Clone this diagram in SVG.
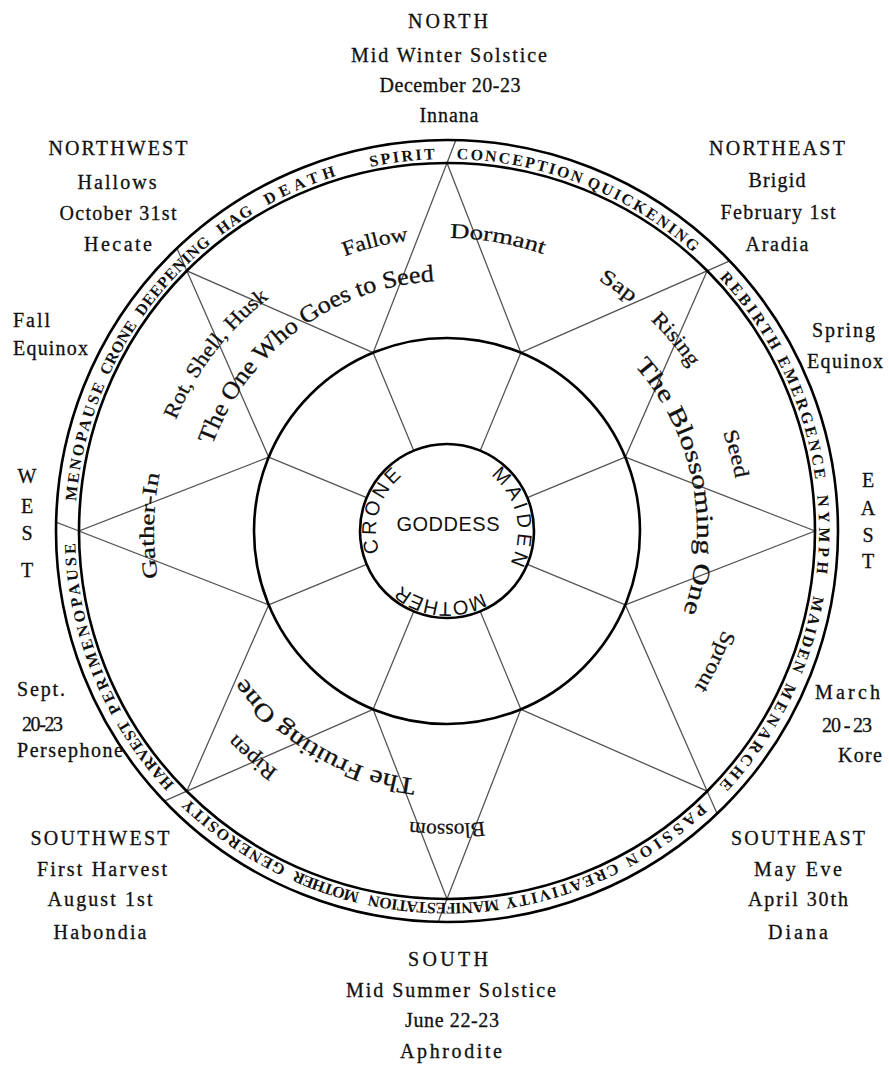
<svg xmlns="http://www.w3.org/2000/svg" width="889" height="1070" viewBox="0 0 889 1070">
<style>
.lbl{font-family:"Liberation Serif","Times New Roman",serif;font-size:20px;fill:#111;stroke:#111;stroke-width:0.3;text-anchor:middle}
.lft{text-anchor:start}
.rt{text-anchor:end}
.ring{font-family:"Liberation Serif","Times New Roman",serif;font-size:16px;font-weight:bold;fill:#111}
.word{font-family:"Liberation Serif","Times New Roman",serif;font-size:21px;fill:#111;stroke:#111;stroke-width:0.25;text-anchor:middle}
.phrase{font-family:"Liberation Serif","Times New Roman",serif;font-size:24px;fill:#111;stroke:#111;stroke-width:0.3}
.god{font-family:"Liberation Sans",Arial,sans-serif;font-size:20px;fill:#111}
.circ{fill:none;stroke:#000;stroke-width:2.6}
.star{fill:none;stroke:#555;stroke-width:1.3;stroke-linejoin:miter}
</style>
<defs>
<path id="pRing" d="M447 159A372 372 0 1 1 447 903A372 372 0 1 1 447 159"/>
<path id="p293" d="M447 238A293 293 0 1 1 447 824A293 293 0 1 1 447 238"/>
<path id="p250" d="M447 281A250 250 0 1 1 447 781A250 250 0 1 1 447 281"/>
<path id="p71" d="M447 460A71 71 0 1 1 447 602A71 71 0 1 1 447 460"/>
<path id="tick" class="star" d="M447 163L455.7 140.6"/>
</defs>
<rect width="889" height="1070" fill="#fff"/>

<g id="connectors">
<polygon class="star" points="447,163 520.86,352.69 707.2,270.8 625.31,457.14 815,531 625.31,604.86 707.2,791.2 520.86,709.31 447,899 373.14,709.31 186.8,791.2 268.69,604.86 79,531 268.69,457.14 186.8,270.8 373.14,352.69"/>
<path class="star" d="M520.86 352.69L480.29 450.62M625.31 457.14L527.38 497.71M625.31 604.86L527.38 564.29M520.86 709.31L480.29 611.38M373.14 709.31L413.71 611.38M268.69 604.86L366.62 564.29M268.69 457.14L366.62 497.71M373.14 352.69L413.71 450.62"/>
<use href="#tick"/>
<use href="#tick" transform="rotate(45 447 531)"/>
<use href="#tick" transform="rotate(135 447 531)"/>
<use href="#tick" transform="rotate(180 447 531)"/>
<use href="#tick" transform="rotate(225 447 531)"/>
<use href="#tick" transform="rotate(270 447 531)"/>
<use href="#tick" transform="rotate(315 447 531)"/>
</g>

<g id="wheel-ring">
<circle class="circ" cx="447" cy="531" r="391" stroke-width="3"/>
<circle class="circ" cx="447" cy="531" r="368" stroke-width="2.2"/>
<text class="ring"><textPath href="#pRing" startOffset="9.7" textLength="126.6" lengthAdjust="spacing">CONCEPTION</textPath></text>
<text class="ring"><textPath href="#pRing" startOffset="142.8" textLength="126.6" lengthAdjust="spacing">QUICKENING</textPath></text>
<text class="ring"><textPath href="#pRing" startOffset="305.2" textLength="90.9" lengthAdjust="spacing">REBIRTH</textPath></text>
<text class="ring"><textPath href="#pRing" startOffset="405.8" textLength="126.6" lengthAdjust="spacing">EMERGENCE</textPath></text>
<text class="ring"><textPath href="#pRing" startOffset="548.6" textLength="77.9" lengthAdjust="spacing">NYMPH</textPath></text>
<text class="ring"><textPath href="#pRing" startOffset="649.3" textLength="77.9" lengthAdjust="spacing">MAIDEN</textPath></text>
<text class="ring"><textPath href="#pRing" startOffset="740.2" textLength="123.4" lengthAdjust="spacing">MENARCHE</textPath></text>
<text class="ring"><textPath href="#pRing" startOffset="889.5" textLength="94.1" lengthAdjust="spacing">PASSION</textPath></text>
<text class="ring"><textPath href="#pRing" startOffset="993.4" textLength="116.9" lengthAdjust="spacing">CREATIVITY</textPath></text>
<text class="ring"><textPath href="#pRing" startOffset="1116.7" textLength="129.9" lengthAdjust="spacing">MANIFESTATION</textPath></text>
<text class="ring"><textPath href="#pRing" startOffset="1256.3" textLength="68" lengthAdjust="spacing">MOTHER</textPath></text>
<text class="ring"><textPath href="#pRing" startOffset="1334.3" textLength="120" lengthAdjust="spacing">GENEROSITY</textPath></text>
<text class="ring"><textPath href="#pRing" startOffset="1473.8" textLength="81.2" lengthAdjust="spacing">HARVEST</textPath></text>
<text class="ring"><textPath href="#pRing" startOffset="1564.7" textLength="175.3" lengthAdjust="spacing">PERIMENOPAUSE</textPath></text>
<text class="ring"><textPath href="#pRing" startOffset="1782.2" textLength="120.1" lengthAdjust="spacing">MENOPAUSE</textPath></text>
<text class="ring"><textPath href="#pRing" startOffset="1912.1" textLength="58.4" lengthAdjust="spacing">CRONE</textPath></text>
<text class="ring"><textPath href="#pRing" startOffset="1980.2" textLength="100.6" lengthAdjust="spacing">DEEPENING</textPath></text>
<text class="ring"><textPath href="#pRing" startOffset="2093.9" textLength="39" lengthAdjust="spacing">HAG</textPath></text>
<text class="ring"><textPath href="#pRing" startOffset="2149" textLength="74.7" lengthAdjust="spacing">DEATH</textPath></text>
<text class="ring"><textPath href="#pRing" startOffset="2259.4" textLength="64.9" lengthAdjust="spacing">SPIRIT</textPath></text>
</g>

<g id="middle-ring">
<circle class="circ" cx="447" cy="531" r="193"/>
<text class="word"><textPath href="#p293" startOffset="96.11%" textLength="66" lengthAdjust="spacingAndGlyphs">Fallow</textPath></text>
<text class="word"><textPath href="#p293" startOffset="2.75%" textLength="95" lengthAdjust="spacingAndGlyphs">Dormant</textPath></text>
<text class="word"><textPath href="#p293" startOffset="9.72%" textLength="40" lengthAdjust="spacingAndGlyphs">Sap</textPath></text>
<text class="word"><textPath href="#p293" startOffset="13.89%" textLength="62" lengthAdjust="spacingAndGlyphs">Rising</textPath></text>
<text class="word"><textPath href="#p293" startOffset="20.83%" textLength="48" lengthAdjust="spacingAndGlyphs">Seed</textPath></text>
<text class="word"><textPath href="#p293" startOffset="32.22%" textLength="64" lengthAdjust="spacingAndGlyphs">Sprout</textPath></text>
<text class="word"><textPath href="#p293" startOffset="50%" textLength="75" lengthAdjust="spacingAndGlyphs">Blossom</textPath></text>
<text class="word"><textPath href="#p293" startOffset="61.3%" textLength="56" lengthAdjust="spacingAndGlyphs">Ripen</textPath></text>
<text class="word"><textPath href="#p293" startOffset="75.28%" textLength="105" lengthAdjust="spacingAndGlyphs">Gather-In</textPath></text>
<text class="word"><textPath href="#p293" startOffset="85.39%" textLength="155" lengthAdjust="spacingAndGlyphs">Rot, Shell, Husk</textPath></text>
<text class="phrase"><textPath href="#p250" startOffset="1265.4" textLength="292" lengthAdjust="spacingAndGlyphs">The One Who Goes to Seed</textPath></text>
<text class="phrase"><textPath href="#p250" startOffset="211.6" textLength="264" lengthAdjust="spacingAndGlyphs">The Blossoming One</textPath></text>
<text class="phrase"><textPath href="#p250" startOffset="815.9" textLength="205" lengthAdjust="spacingAndGlyphs">The Fruiting One</textPath></text>
</g>

<g id="goddess">
<circle class="circ" cx="447" cy="531" r="87"/>
<text class="god" x="448" y="531" font-size="18" text-anchor="middle" textLength="103" lengthAdjust="spacing">GODDESS</text>
<text class="god"><textPath href="#p71" startOffset="312.3" textLength="84.3" lengthAdjust="spacing">CRONE</textPath></text>
<text class="god"><textPath href="#p71" startOffset="47.1" textLength="97.9" lengthAdjust="spacing">MAIDEN</textPath></text>
<text class="god"><textPath href="#p71" startOffset="185.9" textLength="86.7" lengthAdjust="spacing">MOTHER</textPath></text>
</g>

<g id="north">
<text class="lbl" x="448" y="28" textLength="80" lengthAdjust="spacing">NORTH</text>
<text class="lbl" x="449" y="62" textLength="196" lengthAdjust="spacing">Mid Winter Solstice</text>
<text class="lbl" x="450" y="92" textLength="141" lengthAdjust="spacing">December 20-23</text>
<text class="lbl" x="449" y="122" textLength="59" lengthAdjust="spacing">Innana</text>
</g>
<g id="northwest">
<text class="lbl" x="118" y="155" textLength="139" lengthAdjust="spacing">NORTHWEST</text>
<text class="lbl" x="117" y="189" textLength="79" lengthAdjust="spacing">Hallows</text>
<text class="lbl" x="118" y="220" textLength="117" lengthAdjust="spacing">October 31st</text>
<text class="lbl" x="118" y="251" textLength="68" lengthAdjust="spacing">Hecate</text>
</g>
<g id="northeast">
<text class="lbl" x="777" y="155" textLength="136" lengthAdjust="spacing">NORTHEAST</text>
<text class="lbl" x="777" y="187" textLength="57" lengthAdjust="spacing">Brigid</text>
<text class="lbl" x="778" y="219" textLength="115" lengthAdjust="spacing">February 1st</text>
<text class="lbl" x="777" y="251" textLength="63" lengthAdjust="spacing">Aradia</text>
</g>
<g id="fall-equinox">
<text class="lbl lft" x="13" y="327" textLength="37" lengthAdjust="spacing">Fall</text>
<text class="lbl lft" x="13" y="355" textLength="75" lengthAdjust="spacing">Equinox</text>
</g>
<g id="spring-equinox">
<text class="lbl lft" x="812" y="337" textLength="63" lengthAdjust="spacing">Spring</text>
<text class="lbl lft" x="807" y="368" textLength="76" lengthAdjust="spacing">Equinox</text>
</g>
<g id="west">
<text class="lbl" x="27" y="483">W</text>
<text class="lbl" x="27" y="513">E</text>
<text class="lbl" x="27" y="540">S</text>
<text class="lbl" x="27" y="577">T</text>
</g>
<g id="east">
<text class="lbl" x="868" y="487">E</text>
<text class="lbl" x="868" y="515">A</text>
<text class="lbl" x="868" y="542">S</text>
<text class="lbl" x="868" y="568">T</text>
</g>
<g id="sept">
<text class="lbl lft" x="17" y="696" textLength="48" lengthAdjust="spacing">Sept.</text>
<text class="lbl lft" x="22" y="731" textLength="41" lengthAdjust="spacing">20-23</text>
<text class="lbl lft" x="17" y="757" textLength="106" lengthAdjust="spacing">Persephone</text>
</g>
<g id="march">
<text class="lbl rt" x="880" y="699" textLength="65" lengthAdjust="spacing">March</text>
<text class="lbl rt" x="872" y="732" textLength="50" lengthAdjust="spacing">20 - 23</text>
<text class="lbl rt" x="882" y="762" textLength="44" lengthAdjust="spacing">Kore</text>
</g>
<g id="southwest">
<text class="lbl" x="100" y="845" textLength="139" lengthAdjust="spacing">SOUTHWEST</text>
<text class="lbl" x="102" y="876" textLength="130" lengthAdjust="spacing">First Harvest</text>
<text class="lbl" x="100" y="906" textLength="105" lengthAdjust="spacing">August 1st</text>
<text class="lbl" x="100" y="939" textLength="93" lengthAdjust="spacing">Habondia</text>
</g>
<g id="southeast">
<text class="lbl" x="798" y="845" textLength="134" lengthAdjust="spacing">SOUTHEAST</text>
<text class="lbl" x="798" y="876" textLength="88" lengthAdjust="spacing">May Eve</text>
<text class="lbl" x="798" y="906" textLength="100" lengthAdjust="spacing">April 30th</text>
<text class="lbl" x="798" y="939" textLength="60" lengthAdjust="spacing">Diana</text>
</g>
<g id="south">
<text class="lbl" x="448" y="966" textLength="80" lengthAdjust="spacing">SOUTH</text>
<text class="lbl" x="451" y="997" textLength="210" lengthAdjust="spacing">Mid Summer Solstice</text>
<text class="lbl" x="452" y="1027" textLength="94" lengthAdjust="spacing">June 22-23</text>
<text class="lbl" x="451" y="1058" textLength="102" lengthAdjust="spacing">Aphrodite</text>
</g>
</svg>
